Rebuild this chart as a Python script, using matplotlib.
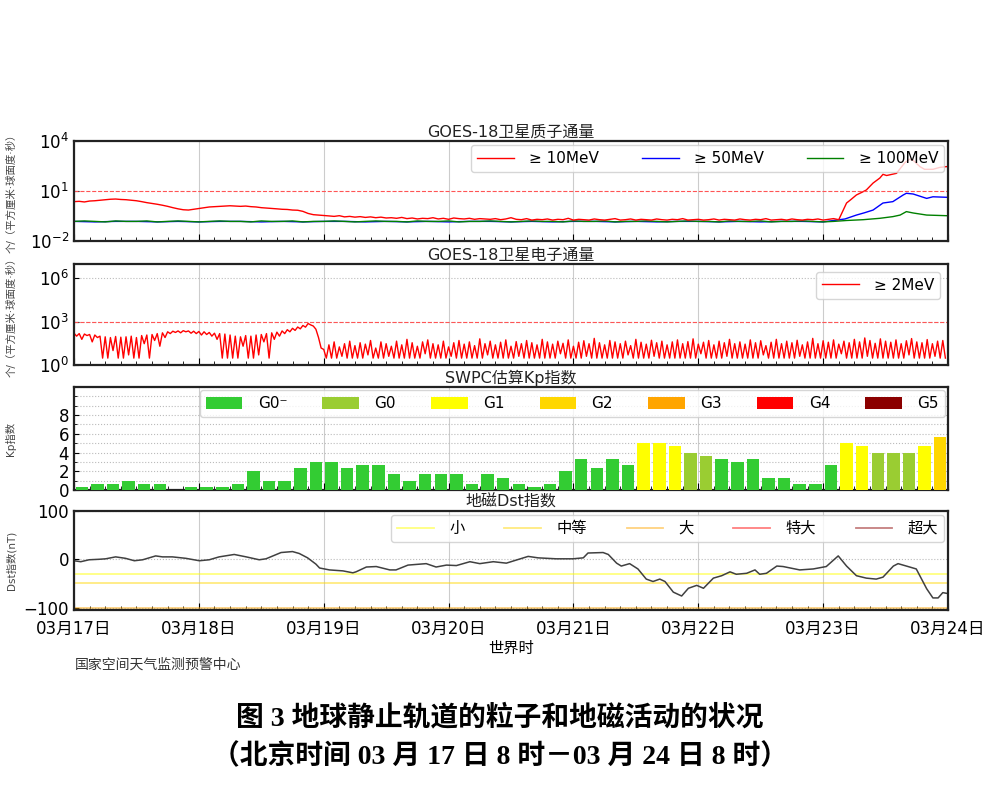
import matplotlib.pyplot as plt
import numpy as np
from matplotlib.patches import Patch
from matplotlib.lines import Line2D
from matplotlib.ticker import MultipleLocator, NullLocator

plt.rcParams['font.family'] = ['DejaVu Sans', 'Noto Sans CJK SC']

# ---- 时间轴（小时，自 03月17日 00时 起）----
day_hours = [0, 24, 48, 72, 96, 120, 144, 168]
day_labels = ['03月17日', '03月18日', '03月19日', '03月20日',
              '03月21日', '03月22日', '03月23日', '03月24日']

# ---- 质子通量 ≥10MeV，逐小时 (h0..h147) ----
p10_flux = [2.3, 2.4, 2.2, 2.5, 2.6, 2.8, 3.0, 3.2, 3.3, 3.1,
            3.0, 2.8, 2.6, 2.3, 2.0, 1.8, 1.6, 1.4, 1.2, 1.0,
            0.85, 0.75, 0.72, 0.8, 0.9, 1.0, 1.1, 1.15, 1.2, 1.25,
            1.3, 1.25, 1.2, 1.25, 1.15, 1.1, 1.0, 0.95, 0.9, 0.85,
            0.8, 0.78, 0.72, 0.7, 0.6, 0.45, 0.38, 0.36, 0.34, 0.32,
            0.30, 0.33, 0.28, 0.30, 0.27, 0.29, 0.26, 0.28, 0.25, 0.27,
            0.24, 0.25, 0.23, 0.26, 0.22, 0.24, 0.21, 0.23, 0.22, 0.25,
            0.21, 0.23, 0.20, 0.24, 0.22, 0.21, 0.23, 0.20, 0.22, 0.21,
            0.20, 0.22, 0.19, 0.21, 0.25, 0.20, 0.19, 0.22, 0.18, 0.20,
            0.19, 0.21, 0.18, 0.20, 0.19, 0.23, 0.18, 0.20, 0.19, 0.18,
            0.21, 0.19, 0.18, 0.20, 0.22, 0.18, 0.19, 0.21, 0.18, 0.20,
            0.19, 0.18, 0.21, 0.19, 0.18, 0.20, 0.19, 0.22, 0.18, 0.19,
            0.20, 0.18, 0.19, 0.21, 0.18, 0.20, 0.19, 0.18, 0.21, 0.19,
            0.18, 0.20, 0.19, 0.22, 0.18, 0.19, 0.20, 0.18, 0.21, 0.19,
            0.18, 0.20, 0.19, 0.21, 0.18, 0.20, 0.22, 0.19]
p10_rise_hours = [148.5, 149.3, 150.4, 151.5, 152.3, 153.6, 154.9, 155.5, 156.2,
                  158.1, 159.1, 159.7, 160.6, 161.3, 162.6, 163.5, 165.1, 166.4, 167.7, 168]
p10_rise_flux = [1.9, 3.0, 5.8, 8.5, 11.5, 30, 60, 100, 85,
                 115, 290, 500, 800, 700, 290, 200, 200, 260, 290, 290]

# ---- 质子通量 ≥50MeV，每 4 小时 (h0..h144) ----
p50_flux = [0.15, 0.14, 0.15, 0.15, 0.14, 0.15, 0.14, 0.15, 0.15, 0.14,
            0.15, 0.14, 0.15, 0.15, 0.14, 0.15, 0.14, 0.15, 0.14, 0.15,
            0.15, 0.14, 0.15, 0.14, 0.15, 0.15, 0.14, 0.15, 0.14, 0.15,
            0.15, 0.14, 0.15, 0.14, 0.15, 0.15, 0.14]
p50_rise_hours = [148.2, 150.4, 152.0, 153.6, 155.5, 157.4, 159.4, 160.0,
                  161.3, 163.9, 165.1, 167.7, 168]
p50_rise_flux = [0.21, 0.36, 0.5, 0.72, 1.9, 2.3, 5.8, 7.3,
                 6.6, 3.6, 4.5, 4.2, 4.2]

# ---- 质子通量 ≥100MeV，每 2 小时 (h0..h146) ----
p100_flux = [0.15, 0.16, 0.15, 0.14, 0.16, 0.15, 0.15, 0.16, 0.14, 0.15,
             0.16, 0.15, 0.14, 0.15, 0.16, 0.15, 0.15, 0.14, 0.16, 0.15,
             0.15, 0.16, 0.14, 0.15, 0.15, 0.16, 0.15, 0.14, 0.15, 0.16,
             0.15, 0.15, 0.14, 0.16, 0.15, 0.15, 0.16, 0.14, 0.15, 0.15,
             0.16, 0.15, 0.14, 0.15, 0.16, 0.15, 0.15, 0.14, 0.16, 0.15,
             0.15, 0.16, 0.14, 0.15, 0.15, 0.16, 0.15, 0.14, 0.15, 0.16,
             0.15, 0.15, 0.14, 0.16, 0.15, 0.15, 0.16, 0.14, 0.15, 0.15,
             0.16, 0.15, 0.14, 0.15]
p100_rise_hours = [148.5, 151.7, 154.9, 157.4, 158.8, 160.0, 161.3, 163.9, 167.7, 168]
p100_rise_flux = [0.17, 0.19, 0.23, 0.29, 0.36, 0.58, 0.48, 0.36, 0.33, 0.33]

# ---- 电子通量 ≥2MeV：每小时峰值与谷值 (h0..h167) ----
e_peak = [160, 150, 140, 130, 120, 100, 90, 80, 95, 85,
          90, 100, 80, 110, 120, 130, 150, 170, 200, 220,
          230, 240, 230, 220, 210, 200, 180, 160, 150, 140,
          120, 100, 90, 110, 100, 120, 130, 150, 170, 190,
          230, 280, 350, 430, 550, 750, 500, 80,
          12, 25, 40, 18, 30, 45, 22, 35, 28, 50,
          15, 40, 30, 20, 45, 25, 60, 35, 20, 40,
          55, 30, 25, 45, 18, 35, 50, 28, 40, 22,
          65, 30, 45, 25, 38, 55, 20, 42, 30, 50,
          35, 25, 60, 40, 28, 45, 32, 55, 20, 38,
          48, 30, 70, 35, 25, 50, 40, 30, 45, 22,
          60, 38, 28, 52, 35, 45, 25, 40, 55, 30,
          42, 65, 28, 38, 50, 25, 45, 35, 60, 30,
          40, 28, 55, 35, 48, 22, 38, 60, 30, 45,
          35, 52, 25, 40, 70, 30, 48, 38, 55, 28,
          45, 35, 60, 40, 75, 50, 32, 65, 45, 38,
          55, 30, 48, 68, 40, 35, 58, 30, 45, 50]
e_dip = [100, 60, 110, 40, 80, 3, 3, 10, 3, 3,
         5, 3, 3, 30, 3, 50, 20, 80, 150, 180,
         170, 200, 160, 150, 120, 130, 100, 60, 3, 3,
         3, 3, 20, 3, 3, 5, 40, 3, 60, 100,
         150, 200, 250, 320, 420, 600, 300, 15,
         3, 3, 3, 4, 3, 3, 3, 3, 5, 3,
         3, 3, 4, 3, 3, 3, 3, 3, 3, 6,
         3, 3, 3, 3, 4, 3, 3, 3, 3, 3,
         3, 5, 3, 3, 3, 3, 3, 4, 3, 3,
         3, 3, 3, 3, 3, 6, 3, 3, 3, 3,
         4, 3, 3, 3, 3, 3, 3, 3, 5, 3,
         3, 3, 3, 4, 3, 3, 3, 3, 3, 3,
         3, 3, 6, 3, 3, 3, 3, 4, 3, 3,
         3, 3, 3, 3, 5, 3, 3, 3, 3, 3,
         3, 4, 3, 3, 3, 3, 3, 3, 3, 6,
         3, 3, 3, 3, 4, 3, 3, 3, 3, 3,
         3, 3, 5, 3, 3, 3, 3, 4, 3, 3]

# ---- Kp 指数（每 3 小时）----
kp_values = [0.33, 0.67, 0.67, 1.0, 0.67, 0.67, 0.0, 0.33, 0.33, 0.33,
             0.67, 2.0, 1.0, 1.0, 2.33, 3.0, 3.0, 2.33, 2.67, 2.67,
             1.67, 1.0, 1.67, 1.67, 1.67, 0.67, 1.67, 1.33, 0.67, 0.33,
             0.67, 2.0, 3.33, 2.33, 3.33, 2.67, 5.0, 5.0, 4.67, 4.0,
             3.67, 3.33, 3.0, 3.33, 1.33, 1.33, 0.67, 0.67, 2.67, 5.0,
             4.67, 4.0, 4.0, 4.0, 4.67, 5.67]
g_labels = ['G0⁻', 'G0', 'G1', 'G2', 'G3', 'G4', 'G5']
g_colors = ['#33cc33', '#9acd32', '#ffff00', '#ffd700', '#ffa500', '#ff0000', '#8b0000']
g_lower = [0, 3.67, 4.67, 5.67, 6.67, 7.67, 8.67]

# ---- Dst 指数 ----
dst_hours = [0, 1.3, 2.9, 4.8, 6.1, 8.0, 9.9, 11.6, 13.2, 15.7,
             17.0, 18.9, 21.5, 24.1, 26.0, 27.9, 30.8, 33.1, 35.6, 36.9,
             39.8, 42.0, 43.3, 44.9, 46.5, 47.2, 49.1, 51.7, 53.6, 54.2,
             56.2, 58.1, 60.7, 61.9, 64.2, 67.7, 69.6, 71.6, 73.5, 76.1,
             78.0, 80.6, 83.1, 87.3, 89.2, 92.7, 95.9, 97.9, 98.8, 101.7,
             102.7, 104.3, 105.2, 106.8, 108.4, 110.0, 111.3, 112.6, 113.6, 115.2,
             116.8, 118.1, 119.7, 121.0, 122.9, 124.5, 126.1, 127.3, 129.3, 130.9,
             131.8, 133.1, 135.1, 136.3, 139.5, 142.1, 144.6, 146.9, 148.5, 150.4,
             152.3, 154.2, 155.5, 157.5, 158.4, 160.0, 161.9, 163.9, 165.1, 166.1,
             167.0, 168.0]
dst_values = [-3, -5, -1, 0, 1, 5, 2, -3, -1, 7,
              5, 5, 2, -3, -1, 5, 10, 5, -1, 1,
              14, 16, 12, 3, -10, -18, -22, -24, -28, -26,
              -16, -15, -22, -22, -12, -9, -16, -12, -13, -5,
              -9, -5, -8, 6, 3, 1, 1, 3, 13, 14,
              10, -8, -14, -9, -20, -41, -46, -41, -46, -68,
              -76, -60, -54, -60, -39, -34, -26, -31, -29, -22,
              -31, -29, -14, -15, -22, -20, -15, 7, -14, -34,
              -39, -41, -37, -14, -9, -14, -20, -61, -80, -80,
              -69, -71]
storm_labels = ['小', '中等', '大', '特大', '超大']
storm_levels = [-30, -50, -100, -200, -350]
storm_colors = ['#ffff00', '#ffd700', '#ffa500', '#ff0000', '#8b0000']


def style_axes(ax, title, ylabel, show_dates=False, ygrid=True):
    ax.set_xlim(0, 168)
    ax.set_xticks(day_hours)
    ax.xaxis.set_minor_locator(MultipleLocator(3))
    ax.tick_params(axis='x', which='major', direction='in', length=5, pad=7)
    ax.tick_params(axis='x', which='minor', direction='in', length=3)
    ax.tick_params(axis='y', which='both', direction='in', labelsize=12)
    ax.grid(True, axis='x', which='major', color='#cccccc', linewidth=0.8)
    if ygrid:
        ax.grid(True, axis='y', which='major', color='#bbbbbb', linestyle=':', linewidth=0.8)
    for s in ax.spines.values():
        s.set_linewidth(1.6)
        s.set_color('#222222')
    ax.set_title(title, fontsize=11.5, pad=3, color='#222222')
    ax.set_ylabel(ylabel, fontsize=7.5, color='#444444')
    ax.yaxis.set_label_coords(-0.066, 0.5)
    if show_dates:
        ax.set_xticklabels(day_labels, fontsize=12)
    else:
        ax.tick_params(axis='x', labelbottom=False)


fig = plt.figure(figsize=(10, 8), dpi=100)

# 质子通量
ax1 = fig.add_axes([0.074, 0.69875, 0.874, 0.125])
hours = np.arange(len(p10_flux))
ax1.plot(np.arange(0, 148, 4).tolist() + p50_rise_hours, p50_flux + p50_rise_flux,
         color='blue', linewidth=1.0)
ax1.plot(np.arange(0, 148, 2).tolist() + p100_rise_hours, p100_flux + p100_rise_flux,
         color='green', linewidth=1.0)
ax1.plot(hours.tolist() + p10_rise_hours, p10_flux + p10_rise_flux,
         color='red', linewidth=1.0)
ax1.axhline(10, color='#ff5555', linestyle='--', linewidth=0.8)
ax1.set_yscale('log')
ax1.set_ylim(1e-2, 1e4)
ax1.set_yticks([1e-2, 1e1, 1e4])
ax1.yaxis.set_minor_locator(NullLocator())
style_axes(ax1, 'GOES-18卫星质子通量', '个/（平方厘米·球面度·秒）', ygrid=False)
h1 = [Line2D([], [], color=c, linewidth=1.0) for c in ['red', 'blue', 'green']]
ax1.legend(h1, ['≥ 10MeV', '≥ 50MeV', '≥ 100MeV'], loc='upper right', ncol=3,
           fontsize=11, handlelength=2.4, handletextpad=1.0, columnspacing=2.8,
           borderaxespad=0.25, framealpha=0.8)

# 电子通量
ax2 = fig.add_axes([0.074, 0.54375, 0.874, 0.12625])
e_hours = np.arange(len(e_peak))
e_t = np.column_stack([e_hours, e_hours + 0.5]).ravel()
e_v = np.column_stack([e_peak, e_dip]).ravel()
ax2.plot(e_t, e_v, color='red', linewidth=1.0)
ax2.axhline(1000, color='#ff5555', linestyle='--', linewidth=0.8)
ax2.set_yscale('log')
ax2.set_ylim(1, 1e7)
ax2.set_yticks([1, 1e3, 1e6])
ax2.yaxis.set_minor_locator(NullLocator())
style_axes(ax2, 'GOES-18卫星电子通量', '个/（平方厘米·球面度·秒）')
ax2.legend([Line2D([], [], color='red', linewidth=1.0)], ['≥ 2MeV'], loc='upper right',
           fontsize=11, handlelength=2.4, handletextpad=1.0, borderaxespad=0.5)

# Kp 指数
ax3 = fig.add_axes([0.074, 0.3875, 0.874, 0.12875])
kp_t = np.arange(len(kp_values)) * 3 + 1.5
kp_colors = [g_colors[sum(v >= lo for lo in g_lower) - 1] for v in kp_values]
ax3.bar(kp_t, kp_values, width=2.4, color=kp_colors, zorder=3)
ax3.set_ylim(0, 11)
ax3.set_yticks([0, 2, 4, 6, 8])
ax3.yaxis.set_minor_locator(MultipleLocator(1))
style_axes(ax3, 'SWPC估算Kp指数', 'Kp指数')
ax3.grid(True, axis='y', which='both', color='#bbbbbb', linestyle=':', linewidth=0.8)
ax3.set_axisbelow(True)
h3 = [Patch(facecolor=c) for c in g_colors]
ax3.legend(h3, g_labels, loc='upper right', ncol=7, fontsize=11,
           handlelength=2.4, handleheight=0.8, handletextpad=1.0, columnspacing=2.3,
           borderaxespad=0.2, framealpha=0.8)

# Dst 指数
ax4 = fig.add_axes([0.074, 0.2375, 0.874, 0.12375])
for lvl, c in zip(storm_levels, storm_colors):
    ax4.axhline(lvl, color=c, linewidth=1.3, alpha=0.5)
ax4.plot(dst_hours, dst_values, color='#404040', linewidth=1.1)
ax4.set_ylim(-105, 100)
ax4.set_yticks([-100, 0, 100])
style_axes(ax4, '地磁Dst指数', 'Dst指数(nT)', show_dates=True)
ax4.set_xlabel('世界时', fontsize=11, labelpad=2)
h4 = [Line2D([], [], color=c, linewidth=1.3, alpha=0.5) for c in storm_colors]
ax4.legend(h4, storm_labels, loc='upper right', ncol=5, fontsize=11,
           handlelength=2.4, handletextpad=1.0, columnspacing=2.6,
           borderaxespad=0.25, framealpha=0.8)

fig.text(0.075, 0.169, '国家空间天气监测预警中心', fontsize=10, color='#333333', va='center')

cap_font = ['Liberation Serif', 'Noto Sans CJK SC']
fig.text(0.5, 0.1025, '图 3 地球静止轨道的粒子和地磁活动的状况', fontsize=20,
         family=cap_font, weight='bold', ha='center', va='center')
fig.text(0.5, 0.054, '（北京时间 03 月 17 日 8 时－03 月 24 日 8 时）', fontsize=20,
         family=cap_font, weight='bold', ha='center', va='center')

fig.savefig('out.png', dpi=100)
